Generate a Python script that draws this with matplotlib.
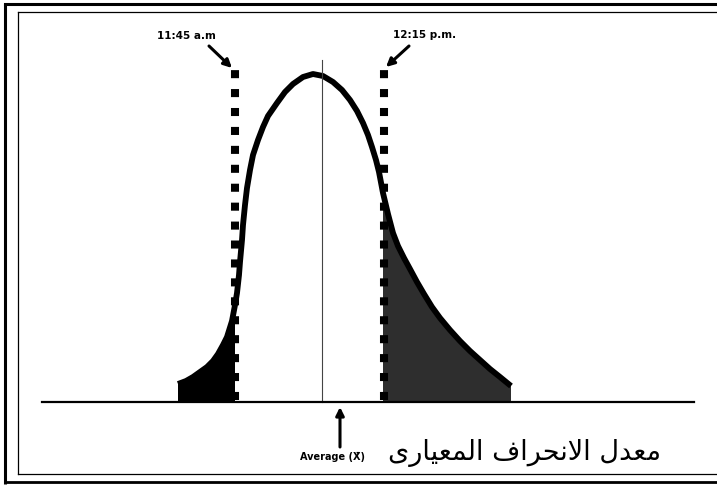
import numpy as np
import matplotlib
matplotlib.use("Agg")
import matplotlib.pyplot as plt

# Curve: horizontal position and height above the baseline
CURVE_X = np.array([178, 186, 193, 200, 207, 213, 218, 223, 227, 232, 235, 237,
                    239, 240, 242, 243, 245, 247, 250, 253, 258, 263, 268, 277,
                    285, 293, 303, 313, 323, 333, 342, 350, 357, 363, 368, 372,
                    376, 379, 383, 388, 393, 398, 404, 410, 417, 424, 432, 440,
                    450, 460, 470, 480, 490, 500, 511])
CURVE_H = np.array([18, 21, 25, 30, 35, 41, 48, 57, 65, 81, 97, 109,
                    127, 140, 162, 177, 197, 214, 232, 247, 262, 275, 286, 299,
                    310, 318, 325, 328, 326, 320, 312, 302, 291, 279, 267, 255,
                    242, 230, 209, 188, 169, 156, 144, 133, 120, 108, 95, 84,
                    72, 61, 51, 42, 33, 25, 16])

MEAN_X = 322                      # thin centre line
AVG_X = 340                       # "Average" arrow
TIME_X = [235, 384]               # 11:45 / 12:15 marks
TIME_LABELS = ["11:45 a.m", "12:15 p.m."]
AVG_LABEL = "Average (X\u0304)"
AR_LABEL = "معدل الانحراف المعيارى"

# Arabic shaping (isolated, final, initial, medial); matplotlib draws glyphs left to right
FORMS = {
    "ا": (0xFE8D, 0xFE8E, None, None),
    "د": (0xFEA9, 0xFEAA, None, None),
    "ر": (0xFEAD, 0xFEAE, None, None),
    "ى": (0xFEEF, 0xFEF0, None, None),
    "لا": (0xFEFB, 0xFEFC, None, None),
    "ل": (0xFEDD, 0xFEDE, 0xFEDF, 0xFEE0),
    "م": (0xFEE1, 0xFEE2, 0xFEE3, 0xFEE4),
    "ع": (0xFEC9, 0xFECA, 0xFECB, 0xFECC),
    "ن": (0xFEE5, 0xFEE6, 0xFEE7, 0xFEE8),
    "ح": (0xFEA1, 0xFEA2, 0xFEA3, 0xFEA4),
    "ف": (0xFED1, 0xFED2, 0xFED3, 0xFED4),
    "ي": (0xFEF1, 0xFEF2, 0xFEF3, 0xFEF4),
}


def shape_arabic(text):
    words = []
    for word in text.split(" "):
        chars, i = [], 0
        while i < len(word):
            if word[i] == "ل" and i + 1 < len(word) and word[i + 1] == "ا":
                chars.append("لا")
                i += 2
            else:
                chars.append(word[i])
                i += 1
        glyphs = []
        for k, c in enumerate(chars):
            iso, fin, ini, med = FORMS[c]
            prev_join = k > 0 and FORMS[chars[k - 1]][2] is not None
            next_join = ini is not None and k + 1 < len(chars)
            if prev_join and next_join:
                g = med
            elif prev_join:
                g = fin
            elif next_join:
                g = ini
            else:
                g = iso
            glyphs.append(chr(g))
        words.append("".join(reversed(glyphs)))
    return " ".join(reversed(words))


fig = plt.figure(figsize=(7.17, 4.87), dpi=100)
ax = fig.add_axes([0, 0, 1, 1])
ax.set_xlim(0, 717)
ax.set_ylim(-85, 402)
ax.axis("off")

# frame (double rule)
ax.plot([5, 5], [-82, 398], color="black", lw=2.2, solid_capstyle="butt")
ax.plot([5, 717], [398, 398], color="black", lw=2.2)
ax.plot([5, 717], [-80, -80], color="black", lw=2.0)
ax.plot([18, 18], [-72, 390], color="black", lw=0.9)
ax.plot([18, 717], [390, 390], color="black", lw=0.9)
ax.plot([18, 717], [-72, -72], color="black", lw=0.9)

# tails
left = CURVE_X <= TIME_X[0] + 1
ax.fill(np.r_[CURVE_X[left], CURVE_X[left][-1], CURVE_X[left][0]],
        np.r_[CURVE_H[left], 0, 0], color="black", lw=0)
right = CURVE_X >= TIME_X[1] - 1
ax.fill(np.r_[CURVE_X[right][0], CURVE_X[right], CURVE_X[right][-1]],
        np.r_[0, CURVE_H[right], 0], color="#2e2e2e", lw=0)

ax.plot(CURVE_X, CURVE_H, color="black", lw=4.2, solid_capstyle="butt",
        solid_joinstyle="round")

# centre line and baseline
ax.plot([MEAN_X, MEAN_X], [0, 342], color="#444444", lw=0.8)
ax.plot([42, 694], [0, 0], color="black", lw=1.6)

# dotted time marks
for x in TIME_X:
    ax.plot([x, x], [2, 340], color="black", lw=5.8, linestyle=(0, (1, 1.35)))

# labels with arrows
ax.text(186, 366, TIME_LABELS[0], ha="center", va="center",
        fontsize=7.5, fontweight="bold")
ax.text(425, 367, TIME_LABELS[1], ha="center", va="center",
        fontsize=7.5, fontweight="bold")
arrow = dict(arrowstyle="-|>", color="black", lw=2.2, mutation_scale=12,
             shrinkA=0, shrinkB=0)
ax.annotate("", xy=(232, 334), xytext=(209, 356), arrowprops=arrow)
ax.annotate("", xy=(386, 335), xytext=(409, 356), arrowprops=arrow)
ax.annotate("", xy=(AVG_X, -5), xytext=(AVG_X, -45), arrowprops=arrow)

ax.text(332, -55, AVG_LABEL, ha="center", va="center",
        fontsize=7, fontweight="bold")
ax.text(525, -51, shape_arabic(AR_LABEL), ha="center", va="center",
        fontsize=19.5, family="DejaVu Sans")

fig.savefig("out.png", dpi=100)
